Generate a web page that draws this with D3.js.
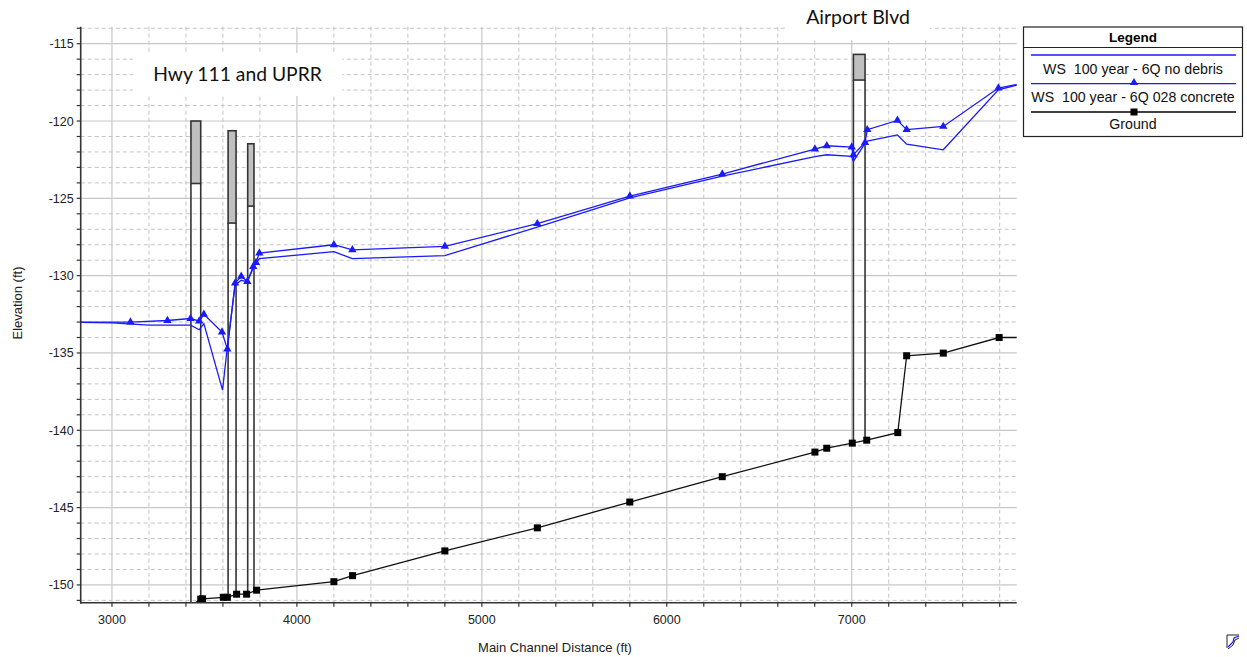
<!DOCTYPE html>
<html>
<head>
<meta charset="utf-8">
<script src="https://cdn.jsdelivr.net/npm/d3@7"></script>
<style>
  html, body { margin: 0; padding: 0; background: #fff; }
  svg { display: block; }
</style>
</head>
<body>
<svg id="chart" width="1247" height="657" font-family="'Liberation Sans', Arial, sans-serif"></svg>
<script>
// ---------------- DATA ----------------
const xTicksMajor = [3000, 4000, 5000, 6000, 7000];
const yTicksMajor = [-115, -120, -125, -130, -135, -140, -145, -150];

// WS 100 year - 6Q no debris (plain line)
const noDebrisStation = [2700, 3000, 3200, 3425, 3472, 3497, 3598, 3624, 3666, 3699, 3732, 3764, 3779, 3797, 4200, 4300, 4800, 5300, 5800, 6300, 6801, 6865, 7000, 7009, 7072, 7084, 7247, 7297, 7495, 7793, 7950];
const noDebrisElev    = [-133.0, -133.05, -133.2, -133.2, -133.5, -133.1, -137.4, -134.6, -130.6, -130.3, -130.4, -129.5, -129.2, -128.9, -128.45, -128.9, -128.7, -126.86, -124.97, -123.56, -122.3, -122.18, -122.29, -122.6, -121.45, -121.3, -120.9, -121.5, -121.86, -117.98, -117.5];

// WS 100 year - 6Q 028 concrete (line with triangles)
const concreteStation = [2700, 3100, 3300, 3425, 3472, 3497, 3595, 3624, 3666, 3699, 3732, 3764, 3779, 3797, 4200, 4300, 4800, 5300, 5800, 6300, 6801, 6865, 7000, 7009, 7072, 7084, 7247, 7297, 7495, 7793, 7950];
const concreteElev    = [-133.0, -133.0, -132.9, -132.77, -132.94, -132.5, -133.65, -134.75, -130.48, -130.05, -130.38, -129.41, -129.15, -128.54, -128.0, -128.33, -128.1, -126.64, -124.85, -123.43, -121.81, -121.6, -121.68, -122.18, -121.39, -120.56, -119.96, -120.56, -120.35, -117.87, -117.5];

// Ground (line with squares)
const groundStation = [3420, 3480, 3490, 3602, 3624, 3674, 3728, 3782, 4200, 4301, 4800, 5300, 5800, 6300, 6801, 6865, 7003, 7081, 7249, 7297, 7495, 7797, 7950];
const groundElev    = [-151.4, -150.92, -150.9, -150.8, -150.8, -150.6, -150.6, -150.34, -149.79, -149.4, -147.8, -146.31, -144.64, -143.0, -141.41, -141.16, -140.83, -140.64, -140.15, -135.18, -135.01, -134.0, -134.0];

// Bridges: upstream/downstream faces, high chord, low chord
const bridgeStart     = [3427, 3628, 3734, 7009];
const bridgeEnd       = [3480, 3671, 3768, 7072];
const bridgeHighChord = [-120.0, -120.63, -121.47, -115.69];
const bridgeLowChord  = [-124.04, -126.6, -125.5, -117.35];

const annotationText = ["Hwy 111 and UPRR", "Airport Blvd"];
const annotationX    = [3679, 7034];
const annotationY    = [-117.4, -113.73];

const legendLabels = ["WS  100 year - 6Q no debris", "WS  100 year - 6Q 028 concrete", "Ground"];
const legendColors = ["#1a1aff", "#1a1aff", "#000000"];
const legendMarkers = ["none", "triangle", "square"];

// ---------------- DRAW ----------------
const svg = d3.select("#chart");
const L = 80.7, R = 1016.7, T = 26.7, B = 602.7;
const x = d3.scaleLinear().domain([2831, 7892]).range([L, R]);
const y = d3.scaleLinear().domain([-151.15, -113.9]).range([B, T]);

svg.append("defs").append("clipPath").attr("id", "plotclip")
  .append("rect").attr("x", L).attr("y", T).attr("width", R - L).attr("height", B - T);

const grid = svg.append("g");
const xMinor = d3.range(3000, 7892, 200).filter(v => !xTicksMajor.includes(v));
const yMinor = d3.range(-151, -113, 1).filter(v => !yTicksMajor.includes(v));
grid.selectAll(".xm").data(xMinor).enter().append("line")
  .attr("x1", d => x(d)).attr("x2", d => x(d)).attr("y1", T).attr("y2", B)
  .attr("stroke", "#c4c4c4").attr("stroke-dasharray", "4,3").attr("stroke-width", 1);
grid.selectAll(".ym").data(yMinor).enter().append("line")
  .attr("y1", d => y(d)).attr("y2", d => y(d)).attr("x1", L).attr("x2", R)
  .attr("stroke", "#c4c4c4").attr("stroke-dasharray", "4,3").attr("stroke-width", 1);
grid.selectAll(".xM").data(xTicksMajor).enter().append("line")
  .attr("x1", d => x(d)).attr("x2", d => x(d)).attr("y1", T).attr("y2", B)
  .attr("stroke", "#c8c8c8").attr("stroke-width", 1.2);
grid.selectAll(".yM").data(yTicksMajor).enter().append("line")
  .attr("y1", d => y(d)).attr("y2", d => y(d)).attr("x1", L).attr("x2", R)
  .attr("stroke", "#c8c8c8").attr("stroke-width", 1.2);

const plot = svg.append("g").attr("clip-path", "url(#plotclip)");

function groundAt(s) {
  for (let i = 0; i < groundStation.length - 1; i++) {
    if (s >= groundStation[i] && s <= groundStation[i + 1]) {
      const t = (s - groundStation[i]) / (groundStation[i + 1] - groundStation[i]);
      return groundElev[i] + t * (groundElev[i + 1] - groundElev[i]);
    }
  }
  return s < groundStation[0] ? groundElev[0] - 1 : groundElev[groundElev.length - 1];
}

// bridges
const bridges = bridgeStart.map((s, i) => ({ s, e: bridgeEnd[i], hi: bridgeHighChord[i], lo: bridgeLowChord[i] }));
const bg = plot.append("g");
bridges.forEach(b => {
  bg.append("rect").attr("x", x(b.s)).attr("y", y(b.hi)).attr("width", x(b.e) - x(b.s)).attr("height", y(b.lo) - y(b.hi))
    .attr("fill", "#c0c0c0").attr("stroke", "#333").attr("stroke-width", 1.6);
  [b.s, b.e].forEach(s => {
    bg.append("line").attr("x1", x(s)).attr("x2", x(s)).attr("y1", y(b.lo)).attr("y2", y(groundAt(s)))
      .attr("stroke", "#333").attr("stroke-width", 1.6);
  });
});

// lines
const line = d3.line().x(d => x(d[0])).y(d => y(d[1]));
const noDebris = noDebrisStation.map((s, i) => [s, noDebrisElev[i]]);
const concrete = concreteStation.map((s, i) => [s, concreteElev[i]]);
const ground = groundStation.map((s, i) => [s, groundElev[i]]);

plot.append("path").datum(noDebris).attr("d", line).attr("fill", "none").attr("stroke", "#1a1aff").attr("stroke-width", 1.3);
plot.append("path").datum(concrete).attr("d", line).attr("fill", "none").attr("stroke", "#1a1aff").attr("stroke-width", 1.3);
plot.append("path").datum(ground).attr("d", line).attr("fill", "none").attr("stroke", "#111").attr("stroke-width", 1.3);

const tri = d3.symbol().type(d3.symbolTriangle).size(30);
plot.selectAll(".tri").data(concrete).enter().append("path")
  .attr("d", tri).attr("transform", d => `translate(${x(d[0])},${y(d[1])})`).attr("fill", "#1a1aff");
plot.selectAll(".sq").data(ground).enter().append("rect")
  .attr("x", d => x(d[0]) - 3.5).attr("y", d => y(d[1]) - 3.5).attr("width", 7).attr("height", 7).attr("fill", "#000");

// axes
const ax = svg.append("g");
ax.append("line").attr("x1", L).attr("x2", L).attr("y1", T).attr("y2", B + 1).attr("stroke", "#333").attr("stroke-width", 1.6);
ax.append("line").attr("x1", L).attr("x2", R).attr("y1", B).attr("y2", B).attr("stroke", "#333").attr("stroke-width", 1.6);
const xAllTicks = d3.range(3000, 7892, 200);
const yAllTicks = d3.range(-151, -113, 1);
ax.selectAll(".xt").data(xAllTicks).enter().append("line")
  .attr("x1", d => x(d)).attr("x2", d => x(d)).attr("y1", B).attr("y2", B + 4).attr("stroke", "#333").attr("stroke-width", 1.2);
ax.selectAll(".yt").data(yAllTicks).enter().append("line")
  .attr("y1", d => y(d)).attr("y2", d => y(d)).attr("x1", L - 4).attr("x2", L).attr("stroke", "#333").attr("stroke-width", 1.2);
ax.selectAll(".xl").data(xTicksMajor).enter().append("text")
  .attr("x", d => x(d)).attr("y", 624).attr("text-anchor", "middle").attr("font-size", 12.5).attr("fill", "#222").text(d => d);
ax.selectAll(".yl").data(yTicksMajor).enter().append("text")
  .attr("x", L - 7).attr("y", d => y(d) + 4.5).attr("text-anchor", "end").attr("font-size", 12.5).attr("fill", "#222").text(d => "-" + Math.abs(d));
svg.append("text").attr("x", 555).attr("y", 652).attr("text-anchor", "middle").attr("font-size", 13).attr("fill", "#222")
  .text("Main Channel Distance (ft)");
svg.append("text").attr("transform", "translate(22,303) rotate(-90)").attr("text-anchor", "middle").attr("font-size", 13).attr("fill", "#222")
  .text("Elevation (ft)");

// annotations with white boxes
const ann = svg.append("g");
const boxes = [[133, 53, 209, 43], [787, 0, 143, 40]];
const annSizes = [19.3, 19.5];
annotationText.forEach((t, i) => {
  ann.append("rect").attr("x", boxes[i][0]).attr("y", boxes[i][1]).attr("width", boxes[i][2]).attr("height", boxes[i][3]).attr("fill", "#fff");
  ann.append("text").attr("x", x(annotationX[i])).attr("y", y(annotationY[i])).attr("text-anchor", "middle")
    .style("font-family", "Lato, 'Open Sans', sans-serif").attr("font-size", annSizes[i]).attr("fill", "#111").text(t);
});

// legend
const lg = svg.append("g");
lg.append("rect").attr("x", 1023.5).attr("y", 27).attr("width", 219).attr("height", 109.5).attr("fill", "#fff").attr("stroke", "#222").attr("stroke-width", 1.2);
lg.append("line").attr("x1", 1023.5).attr("x2", 1242.5).attr("y1", 47.5).attr("y2", 47.5).attr("stroke", "#222").attr("stroke-width", 1.2);
lg.append("text").attr("x", 1133).attr("y", 42).attr("text-anchor", "middle").attr("font-size", 13.5).attr("font-weight", "bold").text("Legend");
const lineYs = [55, 83.7, 112];
const textYs = [74, 101.5, 129];
legendLabels.forEach((lab, i) => {
  lg.append("line").attr("x1", 1031).attr("x2", 1236).attr("y1", lineYs[i]).attr("y2", lineYs[i]).attr("stroke", legendColors[i]).attr("stroke-width", 1.3);
  if (legendMarkers[i] === "triangle") {
    lg.append("path").attr("d", tri).attr("transform", `translate(1134,${lineYs[i] - 1})`).attr("fill", legendColors[i]);
  } else if (legendMarkers[i] === "square") {
    lg.append("rect").attr("x", 1130.5).attr("y", lineYs[i] - 3.5).attr("width", 7).attr("height", 7).attr("fill", "#000");
  }
  lg.append("text").attr("x", 1133).attr("y", textYs[i]).attr("text-anchor", "middle").attr("font-size", 14.2).attr("fill", "#111")
    .style("white-space", "pre").text(lab);
});

// small icon bottom-right
const ic = svg.append("g").attr("transform", "translate(1226,634)");
ic.append("path").attr("d", "M1,14 L1,1 L13,1").attr("fill", "none").attr("stroke", "#222").attr("stroke-width", 1);
ic.append("path").attr("d", "M2,13 L7,8 L8,4 L13,2").attr("fill", "none").attr("stroke", "#1a1aff").attr("stroke-width", 1.2);
ic.append("path").attr("d", "M2,15 L7,11 L9,6 L13,4").attr("fill", "none").attr("stroke", "#222").attr("stroke-width", 1);
</script>
</body>
</html>
